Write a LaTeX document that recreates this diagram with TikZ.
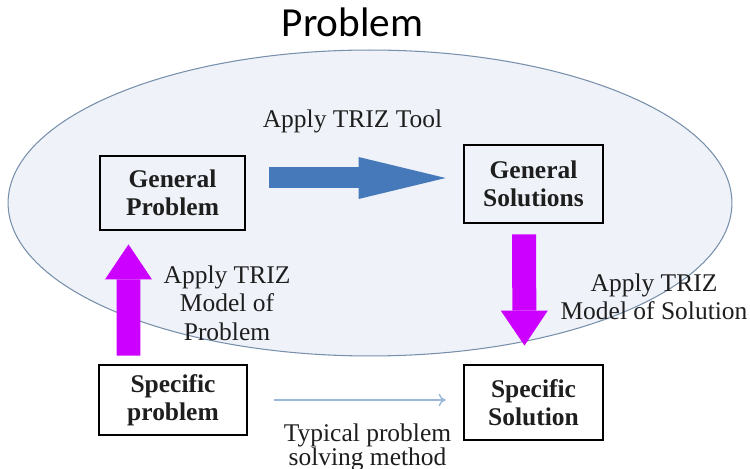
\documentclass[tikz,border=0pt]{standalone}
\usepackage{fontspec}
\setmainfont{Liberation Serif}
\newfontfamily\titlefont{Carlito}
\usetikzlibrary{arrows.meta,calc,positioning}

\definecolor{ovalfill}{HTML}{EFF3F9}
\definecolor{ovalline}{HTML}{7890AC}
\definecolor{toolblue}{HTML}{4679BA}
\definecolor{modelviolet}{HTML}{CC00FF}
\definecolor{typicalblue}{HTML}{9BB7D9}
\definecolor{inkgray}{HTML}{1E1E1E}

\tikzstyle{trizbox} = [draw=black, line width=1.6pt, rectangle, align=center,
    inner sep=0pt, text=inkgray, font=\fontsize{14.5}{16}\selectfont\bfseries]
\tikzstyle{note} = [align=center, inner sep=0pt, text=inkgray,
    font=\fontsize{14.5}{16.2}\selectfont]
\tikzstyle{bigtitle} = [inner sep=0pt, text=black, font=\titlefont\fontsize{23.5}{26}\selectfont]
\tikzstyle{oval} = [draw=ovalline, fill=ovalfill, line width=0.6pt]
\tikzstyle{toolarrow} = [toolblue, line width=0.42cm,
    -{Triangle[width=0.84cm, length=1.74cm, line width'=0pt]}]
\tikzstyle{modelarrow} = [modelviolet, line width=0.48cm,
    -{Triangle[width=0.94cm, length=0.7cm, line width'=0pt]}]
\tikzstyle{typicalarrow} = [typicalblue, line width=0.8pt, -{To[length=4pt, width=7pt]}]

\begin{document}
\begin{tikzpicture}[x=0.02cm, y=-0.02cm]
\fill[white] (0,0) rectangle (750,469);
\useasboundingbox (0,0) rectangle (750,469);

% the problem space
\draw[oval] (370,203) ellipse [x radius=7.24cm, y radius=3.06cm];
\node[bigtitle, anchor=base] (title) at (352.5,37) {Problem};

% boxes
\node[trizbox, minimum width=2.9cm, minimum height=1.48cm] (gprob) at (172.5,193) {General\\Problem};
\node[trizbox, minimum width=2.78cm, minimum height=1.56cm] (gsol) at (533.5,184) {General\\Solutions};
\node[trizbox, minimum width=2.96cm, minimum height=1.4cm] (sprob) at (173,400) {Specific\\problem};
\node[trizbox, minimum width=2.78cm, minimum height=1.5cm] (ssol) at (533.5,402.5) {Specific\\Solution};

% arrows
\coordinate (tooltail) at ($(gprob.east)+(23,-15)$);
\coordinate (tooltip) at ($(gsol.west)+(-17,-6)$);
\draw[toolarrow] (tooltail) -- (tooltip);

\coordinate (uptail) at ($(sprob.north)+(-44.5,-8)$);
\coordinate (uptip) at ($(gprob.south)+(-44,13)$);
\draw[modelarrow] (uptail) -- (uptip);

\coordinate (downtail) at ($(gsol.south)+(-9.5,10)$);
\coordinate (downtip) at ($(ssol.north)+(-9,-18)$);
\draw[modelarrow] (downtail) -- (downtip);

\draw[typicalarrow, shorten <=0.52cm, shorten >=0.34cm] (sprob.east) -- (sprob.east -| ssol.west);

% labels
\node[note, anchor=base] (toollabel) at (352.5,128) {Apply TRIZ Tool};
\node[note, anchor=north] (problabel) at (227,265.5) {Apply TRIZ\\Model of\\Problem};
\node[note, anchor=north] (sollabel) at (654,273) {Apply TRIZ\\Model of Solution};
\node[note, anchor=north, font=\fontsize{14.5}{13.7}\selectfont] (typicallabel) at (367.5,423) {Typical problem\\solving method};
\end{tikzpicture}
\end{document}
